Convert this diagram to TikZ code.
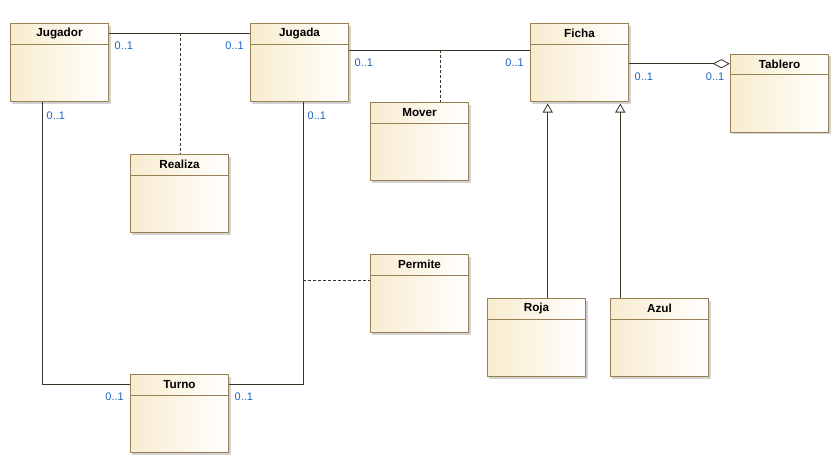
\documentclass[tikz,border=0pt]{standalone}
\usepackage{fontspec}
\setmainfont{Liberation Sans}
\usetikzlibrary{calc,arrows.meta,shadows}
\definecolor{clsborder}{RGB}{150,128,84}
\definecolor{clsfill}{RGB}{248,236,206}
\definecolor{conn}{RGB}{60,50,35}
\definecolor{multblue}{RGB}{30,100,190}
\tikzset{
  cls/.style={rectangle, draw=clsborder, line width=1pt, minimum width=98.4pt, minimum height=78pt, inner sep=0pt,
    left color=clsfill, right color=white,
    drop shadow={shadow xshift=2pt, shadow yshift=-2pt, fill=black!35, opacity=0.5}},
  clsline/.style={draw=clsborder, line width=1pt},
  clstitle/.style={font=\bfseries\fontsize{11.7}{13}\selectfont, text=black, inner sep=0pt},
  assoc/.style={draw=conn, line width=1pt},
  dep/.style={draw=conn, line width=0.8pt, dash pattern=on 3pt off 2pt},
  gen/.style={draw=conn, line width=1pt, -{Triangle[open, length=9pt, width=10pt, line width=0.8pt]}},
  aggr/.style={draw=conn, line width=1pt, -{Diamond[open, length=17pt, width=9pt, line width=0.8pt]}},
  mult/.style={font=\fontsize{11}{12}\selectfont, text=multblue, inner sep=0pt}
}
\newcommand\umlclass[4]{%
  \node[cls] (#1) at (#2,#3) {};
  \draw[clsline] ($(#1.north west)+(0,21)$) -- ($(#1.north east)+(0,21)$);
  \node[clstitle] at ($(#1.north)+(0,10.5)$) {#4};
}
\begin{document}
\begin{tikzpicture}[x=1pt,y=-1pt]
\useasboundingbox (0,0) rectangle (840,464);
\umlclass{jugador}{59.5}{62.5}{Jugador}
\umlclass{jugada}{299.5}{62.5}{Jugada}
\umlclass{ficha}{579.5}{62.5}{Ficha}
\umlclass{tablero}{779.5}{93.2}{Tablero}
\umlclass{mover}{419.5}{141.5}{Mover}
\umlclass{realiza}{179.5}{193.5}{Realiza}
\umlclass{permite}{419.5}{293.5}{Permite}
\umlclass{roja}{536.5}{337.5}{Roja}
\umlclass{azul}{659.5}{337.5}{Azul}
\umlclass{turno}{179.5}{413.5}{Turno}

% helper coordinates
\coordinate (y33) at (0,33);
\coordinate (y50) at (0,50.3);
\coordinate (y64) at (0,63.7);
\coordinate (y384) at (0,384.3);
\coordinate (y280) at (0,280.3);
\coordinate (xjd) at (42.7,0);
\coordinate (xja) at (303.3,0);
\coordinate (xro) at (547.7,0);
\coordinate (xaz) at (620.3,0);
\coordinate (mid1) at (180.3,33);
\coordinate (mid2) at (440.3,50.3);
\coordinate (mid3) at (303.3,280.3);

% Jugador - Jugada
\draw[assoc] (jugador.east |- y33) -- (jugada.west |- y33);
\draw[dep] (mid1) -- (mid1 |- realiza.north);
% Jugada - Ficha
\draw[assoc] (jugada.east |- y50) -- (ficha.west |- y50);
\draw[dep] (mid2) -- (mid2 |- mover.north);
% Ficha - Tablero
\draw[aggr] (ficha.east |- y64) -- (tablero.west |- y64);
% Jugador - Turno
\draw[assoc] (xjd |- jugador.south) |- (turno.west |- y384);
% Jugada - Turno
\draw[assoc] (xja |- jugada.south) |- (turno.east |- y384);
\draw[dep] (mid3) -- (permite.west |- mid3);
% Generalisations
\draw[gen] (xro |- roja.north) -- ($(xro |- ficha.south)+(0,1.5)$);
\draw[gen] (xaz |- azul.north) -- ($(xaz |- ficha.south)+(0,1.5)$);

% multiplicities
\node[mult, anchor=west] (m1) at (114.5,45.7) {0..1};
\node[mult, anchor=east] (m2) at (244,45.7) {0..1};
\node[mult, anchor=west] (m3) at (354.5,62.7) {0..1};
\node[mult, anchor=east] (m4) at (524,62.7) {0..1};
\node[mult, anchor=west] (m5) at (634.5,76.7) {0..1};
\node[mult, anchor=east] (m6) at (724.5,76.7) {0..1};
\node[mult, anchor=west] (m7) at (46.5,115.5) {0..1};
\node[mult, anchor=west] (m8) at (307.5,116) {0..1};
\node[mult, anchor=east] (m9) at (124,396.7) {0..1};
\node[mult, anchor=west] (m10) at (234.5,396.7) {0..1};
\end{tikzpicture}
\end{document}
